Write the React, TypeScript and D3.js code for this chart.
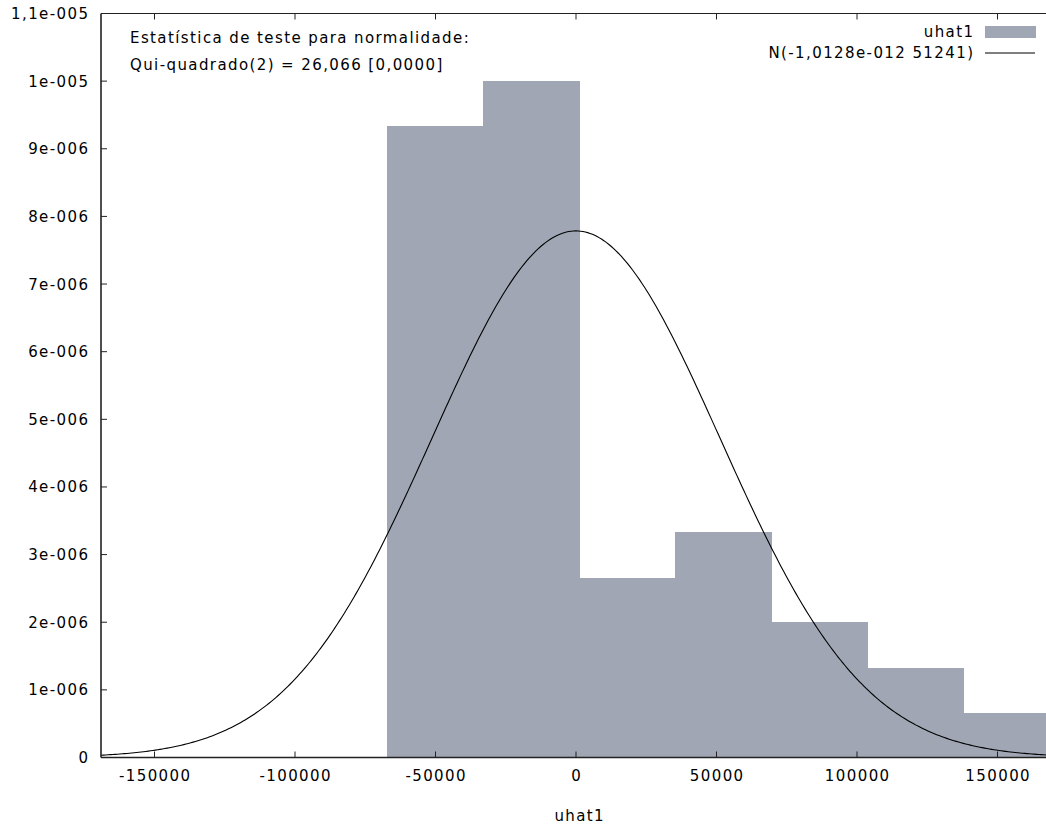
import React from "react";
import * as d3 from "d3";

// ---- data ----
const binStart = -67260;
const binWidth = 34210;
const densities = [9.33e-6, 1.0e-5, 2.66e-6, 3.33e-6, 2.0e-6, 1.33e-6, 0.665e-6];
const normalMean = -1.0128e-12;
const normalSd = 51241;
const xTicks = [-150000, -100000, -50000, 0, 50000, 100000, 150000];
const yTicks = [0, 1e-6, 2e-6, 3e-6, 4e-6, 5e-6, 6e-6, 7e-6, 8e-6, 9e-6, 1e-5, 1.1e-5];
const yTickLabels = ["0", "1e-006", "2e-006", "3e-006", "4e-006", "5e-006", "6e-006", "7e-006", "8e-006", "9e-006", "1e-005", "1,1e-005"];
const annotation = ["Estatística de teste para normalidade:", "Qui-quadrado(2) = 26,066 [0,0000]"];
const legendLabels = ["uhat1", "N(-1,0128e-012 51241)"];
const xLabel = "uhat1";

const W = 1046;
const H = 827;
const left = 101;
const right = 1046;
const top = 13.5;
const bottom = 757.5;
const FONT = "'DejaVu Sans', Verdana, sans-serif";
const BAR = "#a0a6b4";
const AXIS = "#222";
const LS = 1.4;

export default function App() {
  const x = d3.scaleLinear().domain([-169040, 167260]).range([left, right]);
  const y = d3.scaleLinear().domain([0, 1.1e-5]).range([bottom, top]);

  const bars = densities.map((d, i) => {
    const x0 = binStart + i * binWidth;
    const x1 = x0 + binWidth;
    return { x0, x1, d };
  });

  const pdf = (v: number) =>
    Math.exp(-0.5 * ((v - normalMean) / normalSd) ** 2) / (normalSd * Math.sqrt(2 * Math.PI));
  const [dx0, dx1] = x.domain();
  const pts = d3.range(0, 401).map((i) => dx0 + ((dx1 - dx0) * i) / 400);
  const line = d3
    .line<number>()
    .x((v) => x(v))
    .y((v) => y(pdf(v)));

  const txt = { fontSize: 15, fill: "#000", letterSpacing: LS } as const;

  return (
    <svg
      width={W}
      height={H}
      style={{ position: "fixed", left: 0, top: 0, background: "#fff" }}
      fontFamily={FONT}
    >
      <defs>
        <clipPath id="plot">
          <rect x={left} y={top} width={right - left} height={bottom - top} />
        </clipPath>
      </defs>
      <g clipPath="url(#plot)">
        {bars.map((b, i) => (
          <rect
            key={i}
            x={x(b.x0)}
            y={y(b.d)}
            width={x(b.x1) - x(b.x0) + 0.5}
            height={bottom - y(b.d)}
            fill={BAR}
            shapeRendering="crispEdges"
          />
        ))}
        <path d={line(pts) || ""} fill="none" stroke="#000" strokeWidth={1.1} />
      </g>
      {/* frame */}
      <line x1={left} x2={right} y1={top} y2={top} stroke={AXIS} strokeWidth={1} />
      <line x1={left} x2={right} y1={bottom} y2={bottom} stroke={AXIS} strokeWidth={1.6} />
      <line x1={left} x2={left} y1={top} y2={bottom} stroke={AXIS} strokeWidth={1.6} />
      {/* x ticks */}
      {xTicks.map((t) => (
        <g key={t}>
          <line x1={x(t)} x2={x(t)} y1={bottom} y2={bottom - 6} stroke={AXIS} />
          <line x1={x(t)} x2={x(t)} y1={top} y2={top + 6} stroke={AXIS} />
          <text x={x(t) + LS / 2} y={781} textAnchor="middle" {...txt}>
            {t}
          </text>
        </g>
      ))}
      {/* y ticks */}
      {yTicks.map((t, i) => (
        <g key={i}>
          <line x1={left} x2={left + 6} y1={y(t)} y2={y(t)} stroke={AXIS} />
          <text x={88 + LS} y={y(t) + 5.5} textAnchor="end" {...txt}>
            {yTickLabels[i]}
          </text>
        </g>
      ))}
      <text x={579 + LS / 2} y={821} textAnchor="middle" {...txt}>
        {xLabel}
      </text>
      {annotation.map((s, i) => (
        <text key={i} x={130} y={43 + i * 27} {...txt}>
          {s}
        </text>
      ))}
      {/* legend */}
      <text x={973 + LS} y={37} textAnchor="end" {...txt}>
        {legendLabels[0]}
      </text>
      <rect x={985} y={26} width={51} height={12} fill={BAR} />
      <text x={973 + LS} y={58} textAnchor="end" {...txt}>
        {legendLabels[1]}
      </text>
      <line x1={985} x2={1035} y1={53} y2={53} stroke="#000" strokeWidth={1.1} />
    </svg>
  );
}
